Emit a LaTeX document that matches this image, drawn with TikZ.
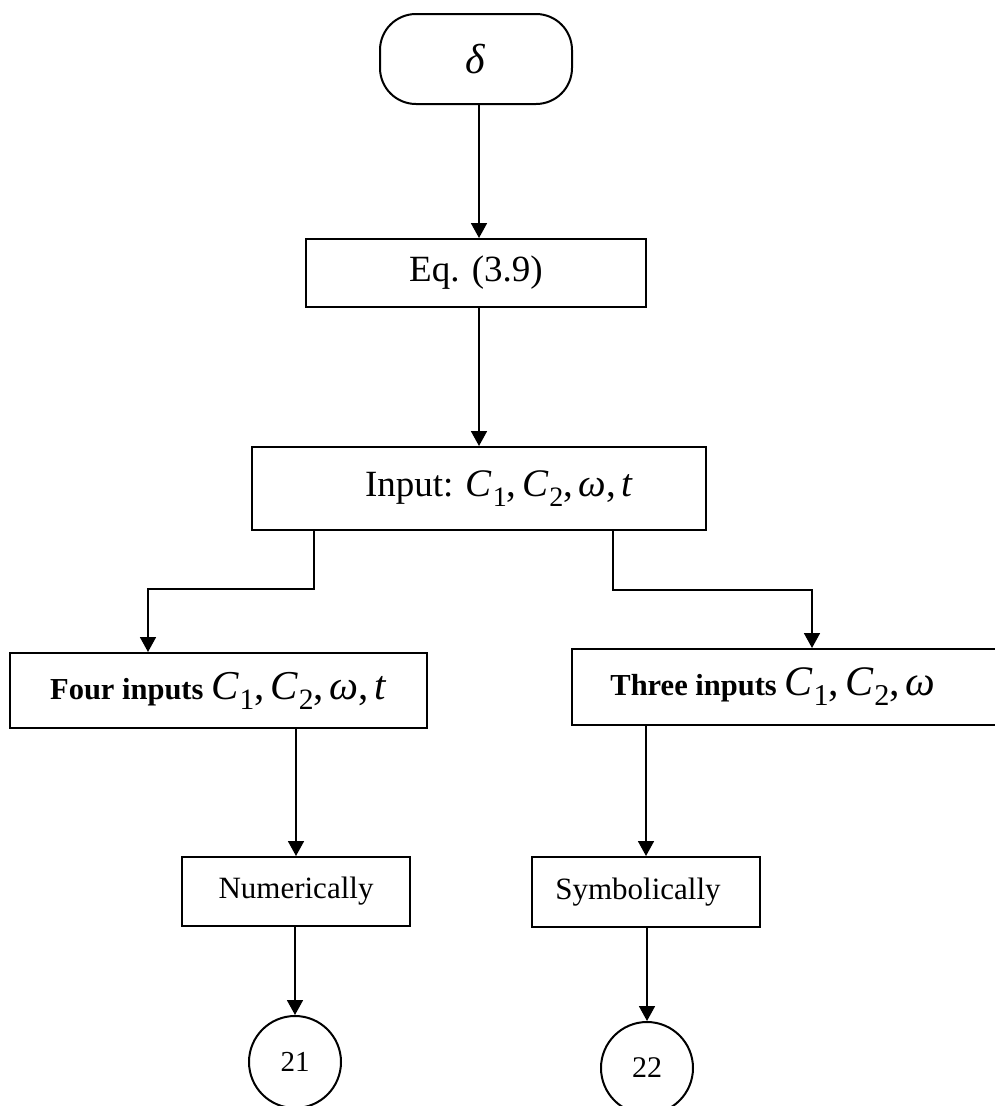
\documentclass[tikz,border=0pt]{standalone}
\usepackage{fontspec}
\setmainfont{Liberation Serif}
\usetikzlibrary{arrows.meta,calc}

% italic letter with an upright lowered subscript
\newcommand\Csub[1]{\textit{C}\kern0.02em\raisebox{-0.24em}{\scalebox{0.72}{#1}}}
\newcommand\mcomma{,\kern0.14em}

\begin{document}
\begin{tikzpicture}[x=1pt,y=-1pt,
  line width=2pt,
  flow/.style={line width=1.8pt, -{Triangle[length=15pt,width=16pt]}},
  box/.style={draw, rectangle, inner sep=0pt, align=center},
  term/.style={draw, rectangle, rounded corners=36pt, inner sep=0pt},
  endcircle/.style={draw, circle, inner sep=0pt, minimum size=92pt},
  bigtxt/.style={font=\fontsize{37}{40}\selectfont},
  midtxt/.style={font=\fontsize{31}{34}\selectfont}
]
\useasboundingbox (0,0) rectangle (995,1106);
\clip (0,0) rectangle (995,1106);

% boxes
\node[term, minimum width=192pt, minimum height=90pt,
      font=\fontsize{42}{44}\selectfont] (start) at (476,59) {\textit{δ}};
\node[box, bigtxt, minimum width=340pt, minimum height=68pt] (eq) at (476,273) {Eq. (3.9)};
\node[box, minimum width=454pt, minimum height=83pt] (input) at (479,488.5)
  {\hspace*{40pt}{\fontsize{37}{40}\selectfont Input: }{\fontsize{39}{42}\selectfont
   \Csub{1}\mcomma\Csub{2}\mcomma\textit{ω}\mcomma\textit{t}}};
\node[box, minimum width=417pt, minimum height=75pt] (four) at (218.5,690.5)
  {{\fontsize{30.5}{34}\selectfont\bfseries Four inputs }{\fontsize{41}{44}\selectfont
   \Csub{1}\mcomma\Csub{2}\mcomma\textit{ω}\mcomma\textit{t}}};
\node[box, minimum width=433pt, minimum height=75.5pt] (three) at (788.5,686.75)
  {\hspace*{-31pt}{\fontsize{30.5}{34}\selectfont\bfseries Three inputs }{\fontsize{42}{44}\selectfont
   \Csub{1}\mcomma\Csub{2}\mcomma\textit{ω}}};
\node[box, midtxt, minimum width=228pt, minimum height=69pt] (numer) at (296,891.5) {Numerically};
\node[box, midtxt, minimum width=228pt, minimum height=70pt] (symb) at (646,892) {\hspace*{-16pt}Symbolically};
\node[endcircle, font=\fontsize{29}{32}\selectfont] (c21) at (295,1062) {21};
\node[endcircle, font=\fontsize{30}{32}\selectfont] (c22) at (647,1068) {22};

% connectors
\draw[flow] (start.south -| input.north) -- (eq.north -| input.north);
\draw[flow] (eq.south -| input.north) -- (input.north);
\draw[flow] ([xshift=-165pt]input.south) -- ++(0,58) -| ([xshift=-70.5pt]four.north);
\draw[flow] ([xshift=134pt]input.south) -- ++(0,59) -| ([xshift=23.5pt]three.north);
\draw[flow] (numer.north |- four.south) -- (numer.north);
\draw[flow] (symb.north |- three.south) -- (symb.north);
\draw[flow] (c21.north |- numer.south) -- (c21.north);
\draw[flow] (c22.north |- symb.south) -- (c22.north);
\end{tikzpicture}
\end{document}
